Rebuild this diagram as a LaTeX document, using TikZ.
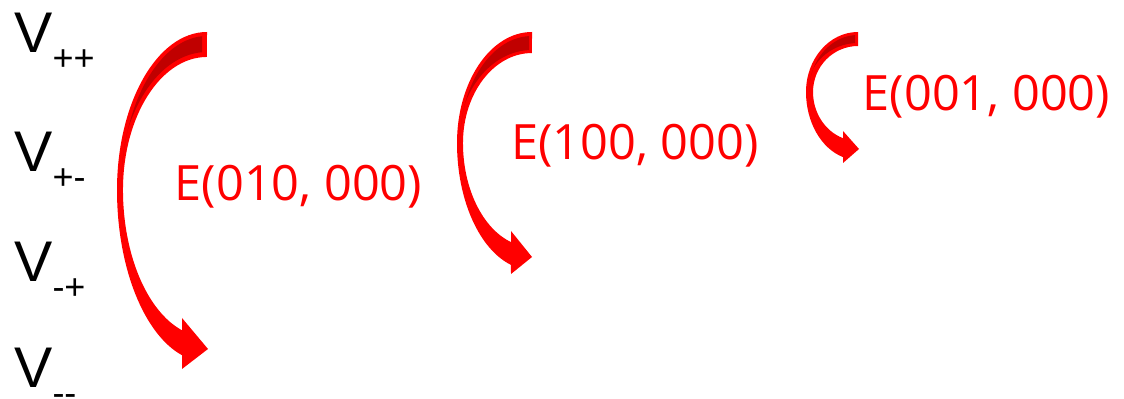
\documentclass[tikz,border=0pt]{standalone}
\usepackage{fontspec}
\setmainfont{Liberation Sans}
\newfontfamily\efont{Open Sans}
\definecolor{arrred}{HTML}{FF0000}
\definecolor{arrdark}{HTML}{C00000}
\newcommand\vsub[1]{\raisebox{-13.5pt}{\fontsize{27}{30}\selectfont #1}}
\begin{document}
\begin{tikzpicture}[x=0.75pt,y=0.75pt,
 vlabel/.style={anchor=base west, inner sep=0pt, font=\fontsize{43}{50}\selectfont},
 elabel/.style={anchor=base, inner sep=0pt, text=arrred, font=\efont\fontsize{36.5}{42}\selectfont},
 band/.style={fill=arrred},
 back/.style={fill=arrdark, even odd rule}]
\useasboundingbox (0,0) rectangle (1124,399);

% arrow 1
\fill[band] (207,367) arc[start angle=90, end angle=180, x radius=90, y radius=158]
  arc[start angle=180, end angle=254, x radius=90, y radius=172]
  -- (182,30) -- (208,50) -- (182,81) -- (182,68.7)
  arc[start angle=252.7, end angle=180, x radius=84, y radius=147]
  arc[start angle=180, end angle=90, x radius=84, y radius=133] -- cycle;
\begin{scope}
  \clip (100,209) rectangle (202,399);
  \clip (207,209) ellipse[x radius=86, y radius=154];
  \fill[back] (207,209) ellipse[x radius=86, y radius=154] (207,209) ellipse[x radius=88, y radius=138];
\end{scope}

% arrow 2
\fill[band] (532,367) arc[start angle=90, end angle=180, x radius=75, y radius=111]
  arc[start angle=180, end angle=253.7, x radius=75, y radius=127]
  -- (511,125) -- (532,142) -- (511,168) -- (511,156.9)
  arc[start angle=252.3, end angle=180, x radius=69, y radius=104]
  arc[start angle=180, end angle=90, x radius=69, y radius=90] -- cycle;
\begin{scope}
  \clip (440,256) rectangle (529,399);
  \clip (532,256) ellipse[x radius=72, y radius=107];
  \fill[back] (532,256) ellipse[x radius=72, y radius=107] (532,256) ellipse[x radius=74, y radius=93];
\end{scope}

% arrow 3
\fill[band] (858,367) arc[start angle=90, end angle=180, x radius=52, y radius=60]
  arc[start angle=180, end angle=253.3, x radius=52, y radius=68]
  -- (843,236) -- (859,250) -- (843,268) -- (843,260.8)
  arc[start angle=250.5, end angle=180, x radius=45, y radius=49]
  arc[start angle=180, end angle=90, x radius=45, y radius=46] -- cycle;
\begin{scope}
  \clip (790,307) rectangle (855,399);
  \clip (858,307) ellipse[x radius=49, y radius=57];
  \fill[back] (858,307) ellipse[x radius=49, y radius=57] (858,307) ellipse[x radius=51, y radius=49];
\end{scope}

% labels
\node[vlabel] (vpp) at (14,346) {V\vsub{++}};
\node[vlabel] (vpm) at (14,227) {V\vsub{+{-}}};
\node[vlabel] (vmp) at (14,117) {V\vsub{{-}+}};
\node[vlabel] (vmm) at (14,11) {V\vsub{{-}{-}}};

\node[elabel] (e1) at (298.5,198) {E(010, 000)};
\node[elabel] (e2) at (635,239) {E(100, 000)};
\node[elabel] (e3) at (986.5,288) {E(001, 000)};
\end{tikzpicture}
\end{document}
